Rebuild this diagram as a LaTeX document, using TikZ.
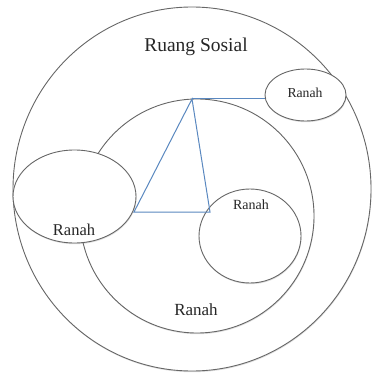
\documentclass[tikz,border=0pt]{standalone}
\usepackage{fontspec}
\setmainfont{Liberation Serif}
\usetikzlibrary{shapes.geometric,shadows}
\definecolor{garisbiru}{HTML}{5A88C0}
\begin{document}
\begin{tikzpicture}[x=1pt,y=-1pt,
  bidang/.style={ellipse,draw=black!60,fill=white,line width=0.9pt,inner sep=0pt,
    drop shadow={shadow xshift=0.5pt,shadow yshift=-1.2pt,opacity=0.25}},
  hubung/.style={draw=garisbiru,line width=1pt},
  teks/.style={inner sep=0pt,text=black!85}]
  \useasboundingbox (0,0) rectangle (373,374);
  % 外圆与内圆
  \node[bidang,minimum width=358pt,minimum height=364pt] (luar) at (192,189) {};
  \node[bidang,minimum size=234pt] (dalam) at (197,216) {};
  % 三个小区域
  \node[bidang,minimum width=123pt,minimum height=93pt] (ranahKiri) at (74.5,196.5) {};
  \node[bidang,minimum width=102pt,minimum height=94pt] (ranahKanan) at (250,236) {};
  \node[bidang,minimum width=81pt,minimum height=52pt] (ranahAtas) at (305.5,95) {};
  % 三角形连线
  \coordinate (puncak) at (192,99);
  \coordinate (sudutKiri) at (134,212);
  \coordinate (sudutKanan) at (210,212);
  \draw[hubung] (sudutKiri) -- (puncak) -- (sudutKanan) -- cycle;
  \draw[hubung] (puncak) -- (puncak -| ranahAtas.west);
  % 文字
  \node[teks,font=\fontsize{19.5}{20}\selectfont] (tRuang) at (196,47) {Ruang Sosial};
  \node[teks,font=\fontsize{17}{18}\selectfont] (tDalam) at (196,310) {Ranah};
  \node[teks,font=\fontsize{16.5}{17}\selectfont] (tKiri) at (74,230) {Ranah};
  \node[teks,font=\fontsize{14}{15}\selectfont] (tKanan) at (251,205) {Ranah};
  \node[teks,font=\fontsize{13.7}{14}\selectfont] (tAtas) at (305,93) {Ranah};
\end{tikzpicture}
\end{document}
